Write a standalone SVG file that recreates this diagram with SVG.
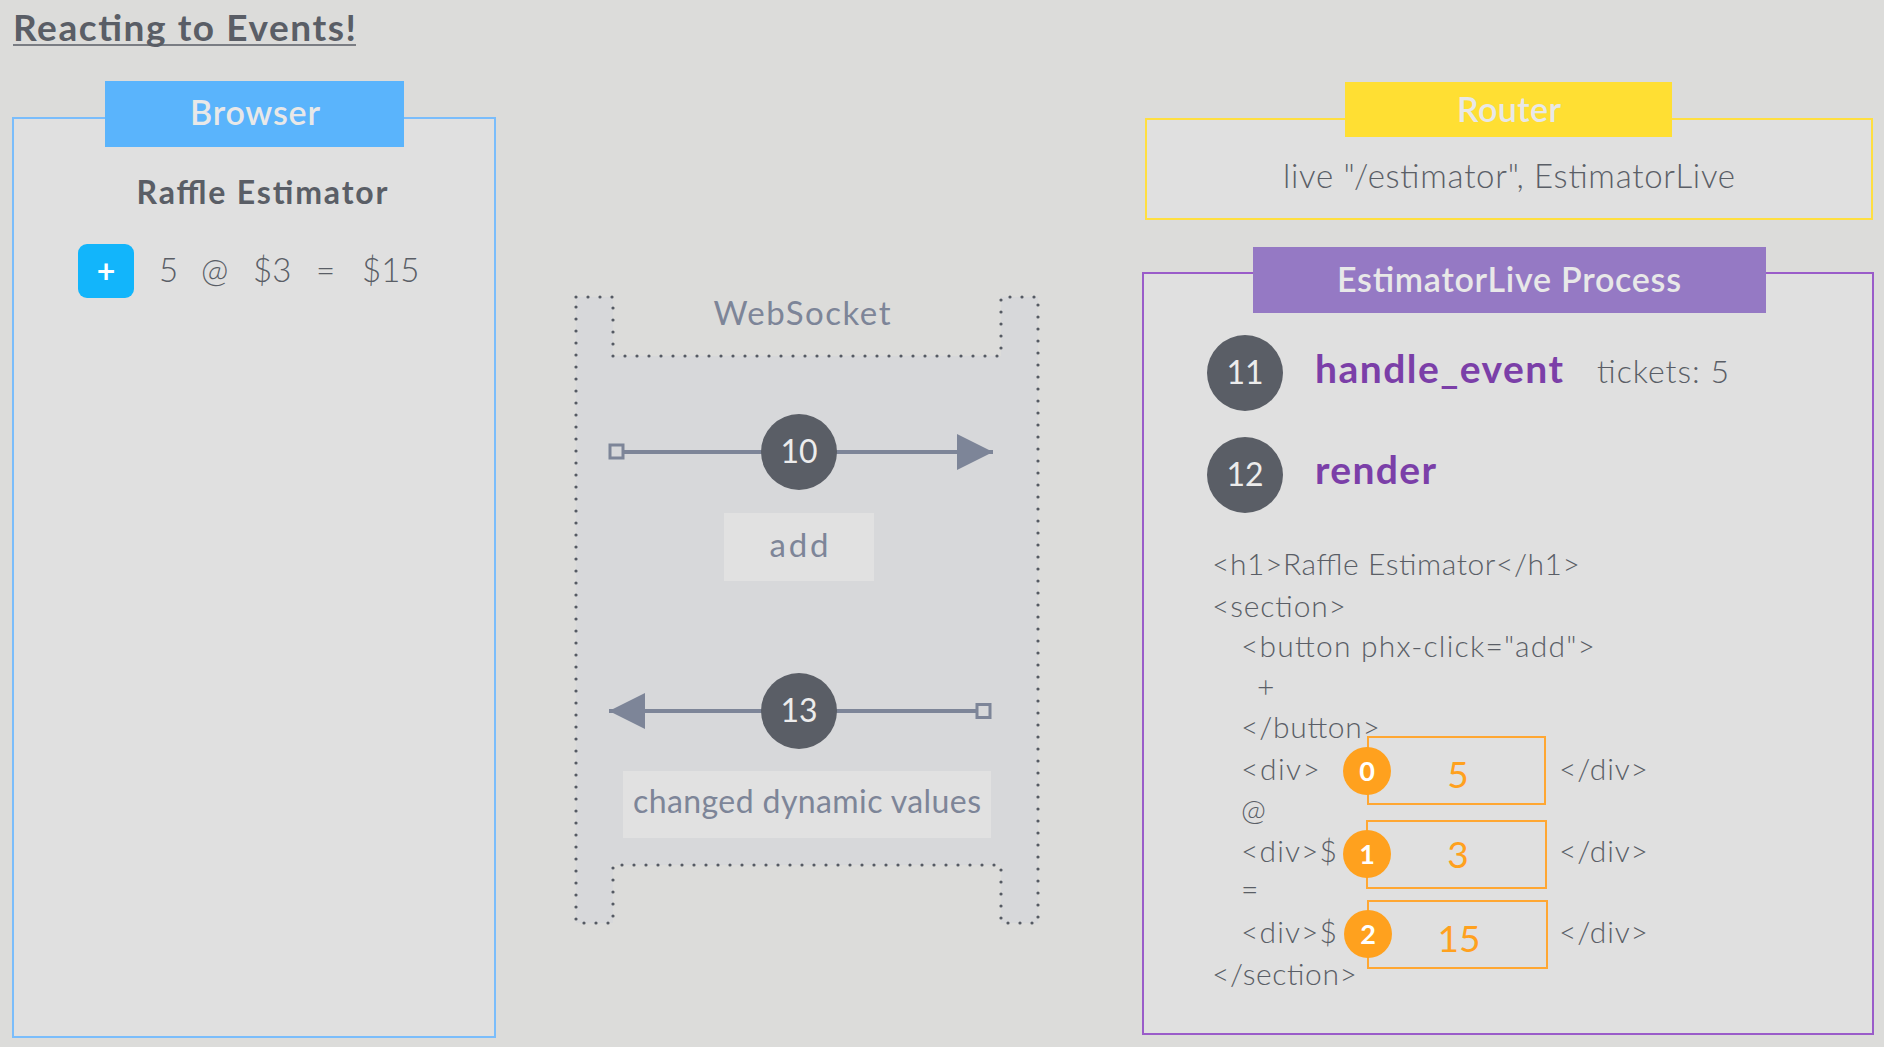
<svg xmlns="http://www.w3.org/2000/svg" width="1884" height="1047" viewBox="0 0 1884 1047">
<defs>
<style>
text{font-family:Lato,"Noto Sans","Liberation Sans",sans-serif}
.dark{fill:#5a5e66}
.hdr{fill:#e8e8e8;font-size:34px;font-weight:600;text-anchor:middle}
.code{fill:#5a5e66;font-size:30px;font-weight:300}
.ws{fill:#7d8598}
.num{fill:#ececec;font-size:32px;text-anchor:middle}
.orn{fill:#ffa11e}
.onum{fill:#fff;font-size:27px;font-weight:700;text-anchor:middle}
.oval{fill:#ffa11e;font-size:37px;text-anchor:middle}
.obox{fill:none;stroke:#ffa733;stroke-width:2}
</style>
<marker id="arr" viewBox="0 0 36 36" refX="36" refY="18" markerWidth="36" markerHeight="36" markerUnits="userSpaceOnUse" orient="auto">
<path d="M0,0 L36,18 L0,36 Z" fill="#7d8598"/>
</marker>
</defs>
<rect x="0" y="0" width="1884" height="1047" fill="#dcdcda"/>

<g id="title">
<text x="13" y="41" font-size="37" font-weight="700" class="dark" textLength="343">Reacting to Events!</text>
<line x1="13" y1="45" x2="356" y2="45" stroke="#5a5e66" stroke-width="1.5"/>
</g>

<g id="browser">
<rect x="13" y="118" width="482" height="919" fill="#e0e0e0" stroke="#7abdfb" stroke-width="2"/>
<rect x="105" y="81" width="299" height="66" fill="#5ab4fc"/>
<text x="255" y="125" class="hdr" textLength="130">Browser</text>
<text x="262" y="204" font-size="32" font-weight="700" text-anchor="middle" class="dark" textLength="251">Raffle Estimator</text>
<rect x="78" y="244" width="56" height="54" rx="9" fill="#12b5fb"/>
<text x="106" y="283" font-size="32" font-weight="700" fill="#fff" text-anchor="middle">+</text>
<text y="282" font-size="33" font-weight="300" class="dark"><tspan x="159">5</tspan><tspan x="201">@</tspan><tspan x="253">$3</tspan><tspan x="316">=</tspan><tspan x="362">$15</tspan></text>
</g>

<g id="websocket">
<path d="M576,297 H613 V356 H1001 V297 H1038 V923 H1001 V865 H613 V923 H576 Z" fill="#d7d8da" stroke="#555a63" stroke-width="3.2" stroke-linecap="round" stroke-linejoin="round" stroke-dasharray="0 12"/>
<text x="802" y="325" font-size="33" text-anchor="middle" class="ws" textLength="177">WebSocket</text>
</g>

<g id="connectors">
<line x1="623" y1="452" x2="993" y2="452" stroke="#7d8598" stroke-width="4" marker-end="url(#arr)"/>
<rect x="610" y="445" width="13" height="13" fill="#d7d8da" stroke="#7d8598" stroke-width="3"/>
<line x1="976" y1="711" x2="609" y2="711" stroke="#7d8598" stroke-width="4" marker-end="url(#arr)"/>
<rect x="977" y="704.5" width="13" height="13" fill="#d7d8da" stroke="#7d8598" stroke-width="3"/>
</g>

<g id="step10">
<circle cx="799" cy="452" r="38" fill="#5a5e66"/>
<text x="799" y="463" class="num">10</text>
</g>
<g id="label-add">
<rect x="724" y="513" width="150" height="68" fill="#e1e1e1"/>
<text x="799" y="557" font-size="33" text-anchor="middle" class="ws" textLength="59">add</text>
</g>
<g id="step13">
<circle cx="799" cy="711" r="38" fill="#5a5e66"/>
<text x="799" y="722" class="num">13</text>
</g>
<g id="label-changed">
<rect x="623" y="771" width="368" height="67" fill="#e1e1e1"/>
<text x="807" y="813" font-size="32" text-anchor="middle" class="ws" textLength="348">changed dynamic values</text>
</g>

<g id="router">
<rect x="1146" y="119" width="726" height="100" fill="#e0e0e0" stroke="#ffdf40" stroke-width="2"/>
<rect x="1345" y="82" width="327" height="55" fill="#ffdf33"/>
<text x="1509" y="122" class="hdr" textLength="104">Router</text>
<text x="1509" y="188" font-size="33" font-weight="300" text-anchor="middle" class="dark" textLength="452">live "/estimator", EstimatorLive</text>
</g>

<g id="process">
<rect x="1143" y="273" width="730" height="761" fill="#e0e0e0" stroke="#9a5cc9" stroke-width="2"/>
<rect x="1253" y="247" width="513" height="66" fill="#9579c4"/>
<text x="1509" y="292" class="hdr" textLength="344">EstimatorLive Process</text>
</g>

<g id="step11">
<circle cx="1245" cy="373" r="38" fill="#5a5e66"/>
<text x="1245" y="384" class="num">11</text>
<text x="1315" y="383" font-size="39" font-weight="700" fill="#7b3fa8" textLength="248">handle_event</text>
<text x="1597" y="383" font-size="32" font-weight="300" class="dark" textLength="132">tickets: 5</text>
</g>
<g id="step12">
<circle cx="1245" cy="475" r="38" fill="#5a5e66"/>
<text x="1245" y="486" class="num">12</text>
<text x="1315" y="484" font-size="39" font-weight="700" fill="#7b3fa8" textLength="121">render</text>
</g>

<g id="template">
<text class="code">
<tspan x="1212" y="575" textLength="368">&lt;h1&gt;Raffle Estimator&lt;/h1&gt;</tspan>
<tspan x="1212" y="617" textLength="134">&lt;section&gt;</tspan>
<tspan x="1241" y="657" textLength="354">&lt;button phx-click="add"&gt;</tspan>
<tspan x="1257" y="698">+</tspan>
<tspan x="1241" y="738" textLength="139">&lt;/button&gt;</tspan>
<tspan x="1241" y="780" textLength="79">&lt;div&gt;</tspan>
<tspan x="1559" y="780" textLength="89">&lt;/div&gt;</tspan>
<tspan x="1241" y="820">@</tspan>
<tspan x="1241" y="862" textLength="96">&lt;div&gt;$</tspan>
<tspan x="1559" y="862" textLength="89">&lt;/div&gt;</tspan>
<tspan x="1241" y="900">=</tspan>
<tspan x="1241" y="943" textLength="96">&lt;div&gt;$</tspan>
<tspan x="1559" y="943" textLength="89">&lt;/div&gt;</tspan>
<tspan x="1212" y="985" textLength="145">&lt;/section&gt;</tspan>
</text>
</g>

<g id="dyn0">
<rect x="1368" y="737" width="177" height="67" class="obox"/>
<ellipse cx="1367" cy="771" rx="24" ry="24" class="orn"/>
<text x="1367" y="780.5" class="onum">0</text>
<text x="1458" y="788" class="oval">5</text>
</g>
<g id="dyn1">
<rect x="1367" y="821" width="179" height="67" class="obox"/>
<ellipse cx="1367" cy="854" rx="24" ry="24" class="orn"/>
<text x="1367" y="863.5" class="onum">1</text>
<text x="1458" y="868" class="oval">3</text>
</g>
<g id="dyn2">
<rect x="1368" y="901" width="179" height="67" class="obox"/>
<ellipse cx="1368" cy="934" rx="24" ry="24" class="orn"/>
<text x="1368" y="943.5" class="onum">2</text>
<text x="1459" y="952" class="oval">15</text>
</g>
</svg>
